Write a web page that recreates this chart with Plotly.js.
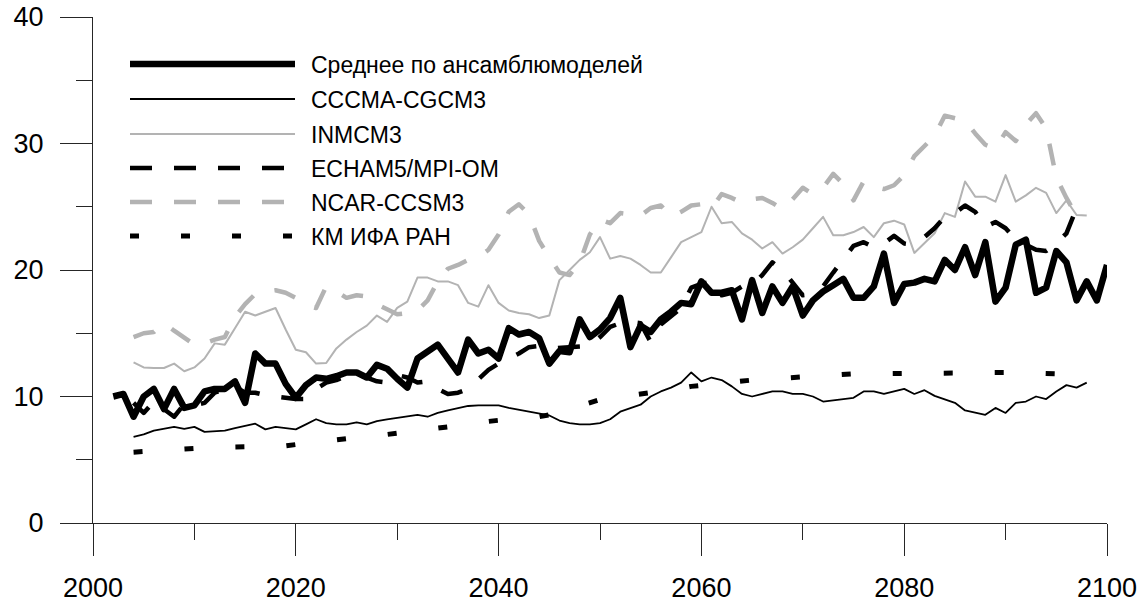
<!DOCTYPE html>
<html>
<head>
<meta charset="utf-8">
<script src="https://cdn.plot.ly/plotly-3.0.1.min.js"></script>
<style>
  html, body { margin: 0; padding: 0; background: #fff; }
  #chart { width: 1148px; height: 605px; }
  #chart path.js-line { stroke-linejoin: round; }
</style>
</head>
<body>
<div id="chart"></div>
<script>
// Annual series, values in the chart's units
function yearsFrom(first, last) {
  const out = [];
  for (let y = first; y <= last; y++) out.push(y);
  return out;
}

const meanYears = yearsFrom(2002, 2100);
const meanValues = [
  10.0, 10.2, 8.4, 10.0, 10.6, 9.0, 10.6, 9.1, 9.3, 10.4,
  10.6, 10.6, 11.2, 9.5, 13.4, 12.6, 12.6, 11.0, 9.9, 10.9,
  11.5, 11.4, 11.6, 11.9, 11.9, 11.5, 12.5, 12.2, 11.4, 10.7,
  13.0, 13.6, 14.1, 13.0, 11.9, 14.5, 13.4, 13.7, 13.0, 15.4,
  14.9, 15.1, 14.6, 12.6, 13.6, 13.5, 16.1, 14.7, 15.3, 16.2,
  17.8, 13.9, 15.6, 15.1, 16.1, 16.7, 17.4, 17.3, 19.1, 18.2,
  18.2, 18.4, 16.1, 19.2, 16.6, 18.7, 17.4, 18.7, 16.4, 17.6,
  18.3, 18.8, 19.3, 17.8, 17.8, 18.7, 21.3, 17.4, 18.9, 19.0,
  19.3, 19.1, 20.8, 20.0, 21.8, 19.6, 22.2, 17.5, 18.6, 22.0,
  22.4, 18.2, 18.6, 21.5, 20.6, 17.6, 19.1, 17.6, 20.4
];

const modelYears = yearsFrom(2004, 2098);

const cccmaValues = [
  6.8, 7.0, 7.3, 7.45, 7.6, 7.45, 7.6, 7.2, 7.25, 7.3,
  7.5, 7.7, 7.85, 7.4, 7.6, 7.5, 7.4, 7.8, 8.2, 7.9,
  7.8, 7.8, 7.95, 7.8, 8.05, 8.2, 8.3, 8.4, 8.55, 8.4,
  8.7, 8.9, 9.05, 9.25, 9.3, 9.3, 9.3, 9.1, 8.95, 8.8,
  8.6, 8.5, 8.1, 7.9, 7.8, 7.8, 7.9, 8.2, 8.8, 9.1,
  9.35, 10.0, 10.4, 10.7, 11.1, 11.9, 11.2, 11.5, 11.3, 10.8,
  10.2, 10.0, 10.2, 10.4, 10.4, 10.2, 10.2, 10.0, 9.6, 9.7,
  9.8, 9.9, 10.4, 10.4, 10.2, 10.4, 10.6, 10.2, 10.5, 10.05,
  9.8, 9.5, 8.9, 8.7, 8.55, 9.1, 8.7, 9.5, 9.6, 10.0,
  9.8, 10.4, 10.9, 10.7, 11.1
];

const inmcmValues = [
  12.7, 12.3, 12.25, 12.25, 12.6, 12.0, 12.3, 13.0, 14.2, 14.1,
  15.4, 16.7, 16.4, 16.7, 17.0, 15.3, 13.7, 13.5, 12.6, 12.65,
  13.8, 14.5, 15.1, 15.6, 16.4, 15.9, 17.0, 17.5, 19.4, 19.4,
  19.1, 19.1, 18.8, 17.4, 17.1, 18.8, 17.4, 16.8, 16.6, 16.5,
  16.2, 16.4, 19.2, 20.0, 20.8, 21.4, 22.6, 20.9, 21.1, 20.9,
  20.4, 19.8, 19.8, 21.0, 22.2, 22.6, 23.0, 25.0, 23.7, 23.8,
  22.9, 22.4, 21.7, 22.2, 21.3, 21.8, 22.4, 23.3, 24.2, 22.75,
  22.75, 23.0, 23.4, 22.6, 23.7, 23.9, 23.6, 21.35, 22.1, 22.9,
  24.5, 24.2, 27.0, 25.8, 25.8, 25.4, 27.5, 25.4, 25.9, 26.5,
  26.1, 24.5, 25.5, 24.35, 24.3
];

const echamValues = [
  9.5, 8.7, 9.6, 9.0, 8.4, 9.4, 9.3, 9.5, 10.3, 10.6,
  10.8, 10.3, 10.3, 10.1, 10.0, 9.9, 9.8, 9.8, 10.6, 11.1,
  11.3, 11.6, 11.8, 11.5, 11.2, 11.1, 11.7, 11.5, 11.1, 11.2,
  10.6, 10.2, 10.3, 10.6, 11.3, 12.1, 12.6, 13.0, 13.4, 13.9,
  14.0, 13.8, 13.85, 13.85, 13.9, 14.0, 14.7, 15.5, 15.8, 15.9,
  15.8, 14.3, 15.7, 16.4, 17.0, 18.6, 18.9, 19.1, 18.0, 18.2,
  18.7, 18.8, 19.6, 20.6, 20.0, 19.0, 18.0, 18.1, 18.7, 19.8,
  20.9, 21.9, 22.2, 21.8, 22.1, 22.7, 22.1, 22.0, 22.6, 23.3,
  24.2, 24.5, 25.1, 24.6, 23.4, 23.8, 23.3, 22.4, 22.0, 21.6,
  21.5, 22.1, 22.9, 24.9, 24.5
];

const ncarValues = [
  14.7, 15.0, 15.1, 15.8, 15.2, 14.6, 14.1, 14.2, 14.5, 14.7,
  16.3, 17.3, 18.1, 18.3, 18.4, 18.2, 17.8, 17.2, 17.0, 18.7,
  18.3, 17.8, 18.0, 17.9, 17.3, 16.9, 16.5, 16.6, 16.8, 17.6,
  19.1, 20.1, 20.4, 20.8, 21.0, 21.6, 22.8, 24.6, 25.2, 24.4,
  22.3, 21.0, 19.8, 19.6, 20.6, 22.8, 24.0, 23.7, 24.5, 24.4,
  24.3, 24.9, 25.1, 24.2, 24.6, 25.1, 25.2, 24.9, 26.0, 25.7,
  25.3, 25.6, 25.7, 25.3, 24.8, 25.6, 26.5, 26.0, 26.5, 27.6,
  26.8, 25.5, 27.0, 26.6, 26.4, 26.7, 27.5, 29.0, 29.8, 30.6,
  32.2, 32.0, 31.8, 30.8, 29.9, 29.6, 30.9, 30.2, 31.5, 32.4,
  31.2, 27.3, 25.7, 24.3, 24.5
];

const kmValues = [
  5.6, 5.65, 5.7, 5.75, 5.85, 5.9, 5.95, 6.0, 6.0, 6.0,
  6.0, 6.05, 6.05, 6.1, 6.1, 6.1, 6.2, 6.3, 6.45, 6.55,
  6.65, 6.75, 6.8, 6.9, 6.95, 7.0, 7.1, 7.2, 7.3, 7.4,
  7.45, 7.55, 7.7, 7.85, 7.95, 8.05, 8.15, 8.2, 8.3, 8.35,
  8.4, 8.55, 8.8, 9.1, 9.35, 9.6, 9.75, 9.85, 9.95, 10.05,
  10.15, 10.25, 10.4, 10.5, 10.65, 10.8, 10.9, 11.0, 11.1, 11.2,
  11.25, 11.3, 11.35, 11.4, 11.45, 11.5, 11.55, 11.6, 11.7, 11.75,
  11.8, 11.8, 11.8, 11.8, 11.8, 11.8, 11.8, 11.8, 11.8, 11.8,
  11.85, 11.85, 11.9, 11.9, 11.9, 11.95, 11.95, 11.9, 11.9, 11.85,
  11.8, 11.8, 11.8, 11.8, 11.8
];

const seriesNames = [
  'Среднее по ансамблюмоделей',
  'CCCMA-CGCM3',
  'INMCM3',
  'ECHAM5/MPI-OM',
  'NCAR-CCSM3',
  'КМ ИФА РАН'
];

// Line styles, in legend order
const BLACK = '#000000';
const GREY = '#b3b3b3';
const styles = [
  { color: BLACK, width: 6.5, dash: 'solid' },
  { color: BLACK, width: 1.8, dash: 'solid' },
  { color: GREY, width: 2, dash: 'solid' },
  { color: BLACK, width: 4.5, dash: '22px,22px' },
  { color: GREY, width: 4.5, dash: '22px,22px' },
  { color: BLACK, width: 5, dash: '9px,42px' }
];

const seriesX = [meanYears, modelYears, modelYears, modelYears, modelYears, modelYears];
const seriesY = [meanValues, cccmaValues, inmcmValues, echamValues, ncarValues, kmValues];

const traces = seriesNames.map((name, i) => ({
  type: 'scatter',
  mode: 'lines',
  name: name,
  x: seriesX[i],
  y: seriesY[i],
  line: { color: styles[i].color, width: styles[i].width, dash: styles[i].dash },
  hoverinfo: 'skip',
  showlegend: false
}));

// Plot frame in pixels
const M = { l: 93, r: 41, t: 17, b: 82 };
const W = 1148 - M.l - M.r;
const H = 605 - M.t - M.b;
const px = x => (x - M.l) / W;
const py = y => 1 - (y - M.t) / H;

// Hand-built legend: long sample lines and labels
const legendRows = [64, 99, 134, 168, 202, 236];
const shapes = [];
const annotations = [];
legendRows.forEach((rowY, i) => {
  shapes.push({
    type: 'line', xref: 'paper', yref: 'paper',
    x0: px(130), x1: px(295), y0: py(rowY), y1: py(rowY),
    line: { color: styles[i].color, width: styles[i].width, dash: styles[i].dash }
  });
  annotations.push({
    xref: 'paper', yref: 'paper',
    x: px(309), y: py(rowY + 1),
    xanchor: 'left', yanchor: 'middle',
    showarrow: false,
    text: seriesNames[i],
    font: { family: 'Liberation Sans, Arial, sans-serif', size: 23, color: '#000' }
  });
});

const AXIS_COLOR = '#262626';
const tickFont = { family: 'Liberation Sans, Arial, sans-serif', size: 27, color: '#000' };

const layout = {
  width: 1148,
  height: 605,
  margin: M,
  paper_bgcolor: '#ffffff',
  plot_bgcolor: '#ffffff',
  showlegend: false,
  xaxis: {
    range: [2000, 2100],
    tick0: 2000, dtick: 20,
    ticks: 'outside', ticklen: 32, tickwidth: 1, tickcolor: AXIS_COLOR,
    minor: { dtick: 10, ticks: 'outside', ticklen: 16, tickwidth: 1, tickcolor: AXIS_COLOR },
    showline: true, linecolor: AXIS_COLOR, linewidth: 1,
    showgrid: false, zeroline: false,
    tickfont: tickFont,
    ticklabelstandoff: 9,
    fixedrange: true
  },
  yaxis: {
    range: [0, 40],
    tick0: 0, dtick: 10,
    ticks: 'outside', ticklen: 32, tickwidth: 1, tickcolor: AXIS_COLOR,
    minor: { dtick: 5, ticks: 'outside', ticklen: 16, tickwidth: 1, tickcolor: AXIS_COLOR },
    showline: true, linecolor: AXIS_COLOR, linewidth: 1,
    showgrid: false, zeroline: false,
    tickfont: tickFont,
    ticklabelstandoff: 11,
    fixedrange: true
  },
  shapes: shapes,
  annotations: annotations
};

Plotly.newPlot('chart', traces, layout, { staticPlot: true, displayModeBar: false });
</script>
</body>
</html>
